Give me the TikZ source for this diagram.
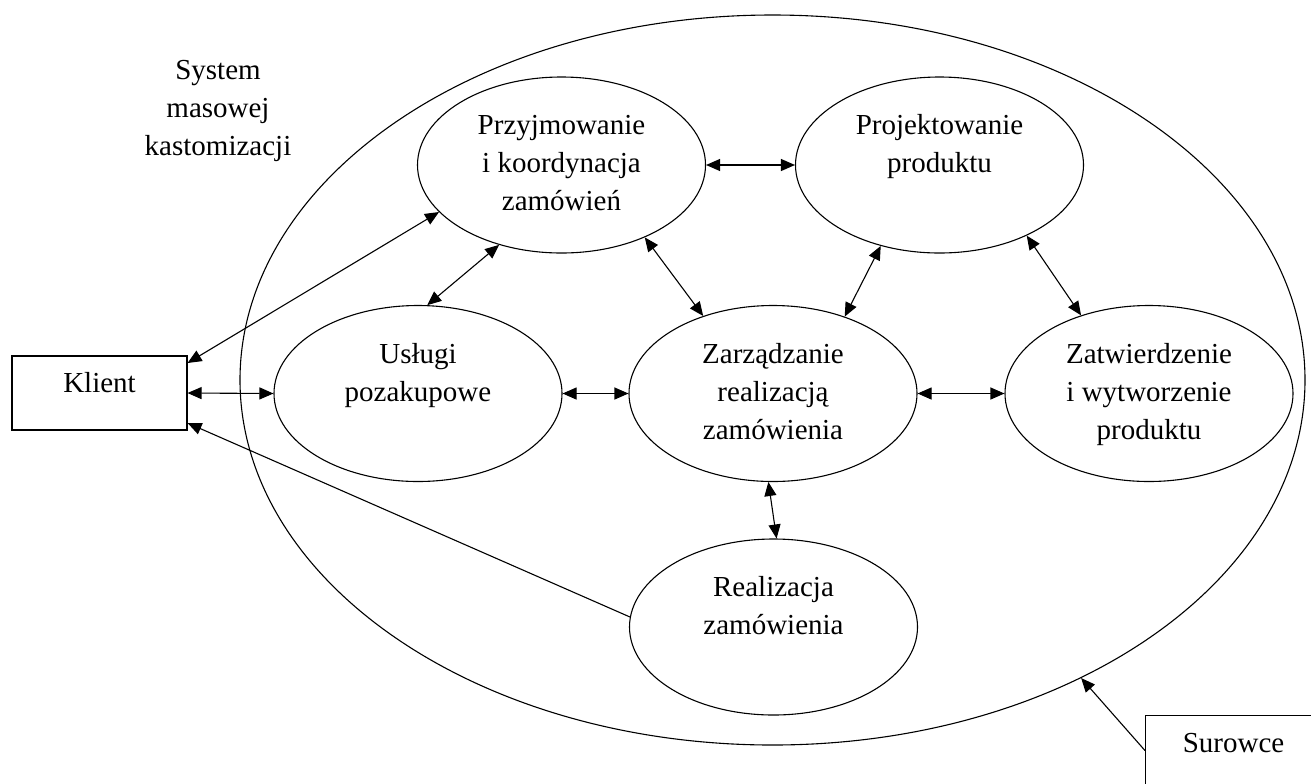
\documentclass[tikz,border=0pt]{standalone}
\usepackage{fontspec}
\setmainfont{Liberation Serif}
\usetikzlibrary{shapes.geometric,arrows.meta,calc}
\begin{document}
\begin{tikzpicture}[x=0.5pt,y=-0.5pt,
  every node/.style={font=\fontsize{14.5}{19}\selectfont},
  proc/.style={ellipse, draw, line width=0.55pt, minimum width=144pt, minimum height=88pt, inner sep=0pt, align=center},
  box/.style={rectangle, draw, line width=0.55pt, inner sep=0pt},
  tip/.tip={Triangle[length=7pt,width=6pt]},
  biarrow/.style={line width=0.55pt, tip-tip},
  onearrow/.style={line width=0.55pt, -tip}]
\useasboundingbox (0,0) rectangle (1311,783);
\clip (0,0) rectangle (1311,783);

% outer system ellipse
\node[ellipse, draw, line width=0.55pt, minimum width=532.5pt, minimum height=365pt, inner sep=0pt] (sys) at (772.5,380) {};
\node[align=center] (syslabel) at (218,110) {\strut System\\masowej\\kastomizacji\strut};

% processes
\node[proc] (P) at (561.5,165) {\strut Przyjmowanie\\i koordynacja\\zamówień\strut};
\node[proc] (J) at (939.5,165) {\strut Projektowanie\\produktu\\\strut};
\node[proc] (U) at (418,393.5) {\strut Usługi\\pozakupowe\\\strut};
\node[proc] (Z) at (773,393.5) {\strut Zarządzanie\\realizacją\\zamówienia\strut};
\node[proc] (T) at (1149,393.5) {\strut Zatwierdzenie\\i wytworzenie\\produktu\strut};
\node[proc] (R) at (773.5,627) {\strut Realizacja\\zamówienia\\\strut};

% boxes
\node[box, minimum width=87.5pt, minimum height=37pt, text height=10pt, text depth=11pt] (K) at (99.5,393) {Klient};
\node[box, anchor=north west, minimum width=88pt, minimum height=40pt, text height=10pt, text depth=13pt] (S) at (1145,715) {Surowce};

% connectors
\draw[biarrow] (P.east) -- (J.west);
\draw[biarrow] (P.-41.6) -- (Z.132.7);
\draw[biarrow] (J.234.3) -- (Z.47.7);
\draw[biarrow] (J.-39.6) -- (T.131.5);
\draw[biarrow] (P.232.9) -- (U.84.2);
\draw[biarrow] (U.east) -- (Z.west);
\draw[biarrow] (Z.east) -- (T.west);
\draw[biarrow] (Z.267.4) -- (R.88.7);
\draw[biarrow] (K.east) -- (U.west);
\draw[biarrow] ($(K.east)+(0,-30)$) -- (P.201);
\draw[onearrow] (R.176.8) -- ($(K.east)+(0,30)$);
\draw[onearrow] ($(S.west)+(0,-5)$) -- (sys.-44.8);
\end{tikzpicture}
\end{document}
